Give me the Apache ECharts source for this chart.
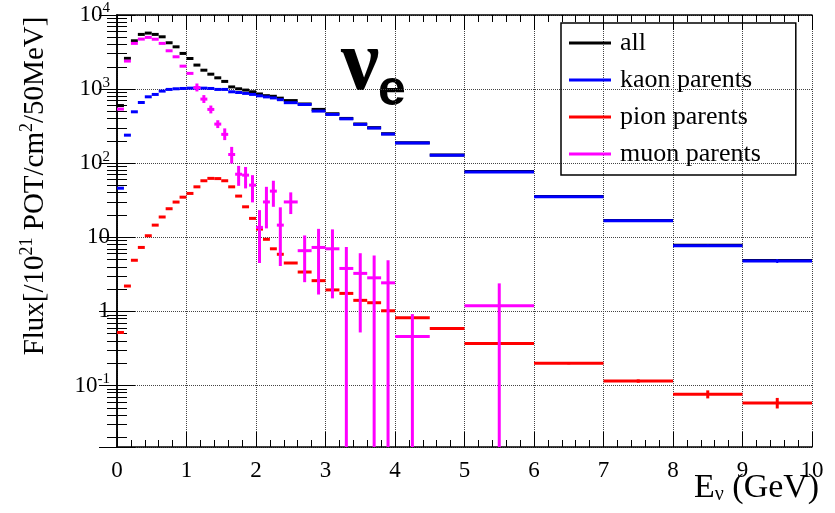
<!DOCTYPE html>
<html>
<head>
<meta charset="utf-8">
<script src="https://cdn.jsdelivr.net/npm/echarts@6/dist/echarts.min.js"></script>
<style>
  html, body { margin: 0; padding: 0; background: #fff; }
  #chart { width: 835px; height: 513px; }
</style>
</head>
<body>
<div id="chart"></div>
<script>
// bin edges in GeV (0.1 wide to 2.4, 0.2 wide to 4, 0.5 wide to 5, then 1 GeV)
const binEdges = [0, 0.1, 0.2, 0.3, 0.4, 0.5, 0.6, 0.7, 0.8, 0.9, 1.0, 1.1, 1.2, 1.3, 1.4, 1.5, 1.6, 1.7, 1.8, 1.9,
  2.0, 2.1, 2.2, 2.3, 2.4, 2.6, 2.8, 3.0, 3.2, 3.4, 3.6, 3.8, 4.0, 4.5, 5, 6, 7, 8, 9, 10]

const allFlux = [600, 2600, 4490, 5470, 5700, 5470, 5080, 4220, 3720, 3030, 2590, 2110, 1800, 1590, 1420, 1270, 1070, 1010, 970, 920,
  860, 815, 800, 755, 700, 630, 532, 465, 402, 338, 302, 250, 189, 129, 77.5, 35.6, 16.9, 7.8, 4.86]

const kaonFlux = [46, 239, 494, 660, 787, 847, 940, 990, 1010, 1020, 1030, 1030, 1030, 1020, 990, 990, 920, 900, 875, 848,
  812, 785, 760, 720, 656, 620, 505, 455, 397, 334, 298, 247, 187, 128, 76, 35.2, 16.7, 7.7, 4.8]
const kaonErrLo = [null, null, null, null, null, null, null, null, null, null, null, null, null, null, null, null, null, null, null, null,
  null, null, null, null, null, null, null, null, null, null, null, null, null, null, null, null, null, 7.4, 4.5]
const kaonErrHi = [null, null, null, null, null, null, null, null, null, null, null, null, null, null, null, null, null, null, null, null,
  null, null, null, null, null, null, null, null, null, null, null, null, null, null, null, null, null, 8.0, 5.1]

const pionFlux = [0.52, 2.2, 4.9, 7.3, 10.5, 14.6, 18.8, 24.3, 29.9, 34.8, 39.1, 48, 58, 62.4, 62, 58, 48, 36, 25.8, 18,
  12.9, 9.4, 7.0, 5.9, 4.5, 3.4, 2.6, 1.95, 1.75, 1.41, 1.31, 1.02, 0.82, 0.59, 0.37, 0.199, 0.115, 0.076, 0.058]
const pionErrLo = [null, null, null, null, null, null, null, null, null, null, null, null, null, null, null, null, null, null, null, null,
  null, null, null, null, null, null, null, null, null, null, null, null, null, 0.58, null, 0.193, 0.109, 0.067, 0.049]
const pionErrHi = [null, null, null, null, null, null, null, null, null, null, null, null, null, null, null, null, null, null, null, null,
  null, null, null, null, null, null, null, null, null, null, null, null, null, 0.61, null, 0.206, 0.121, 0.086, 0.068]

const muonFlux = [537, 2390, 4140, 4730, 4990, 4710, 4140, 3290, 2730, 2040, 1630, 1050, 733, 532, 337, 245, 131, 71, 69, 50.6,
  13.6, 30, 42, 14.6, 30, 6.6, 7.3, 7.0, 3.8, 3.26, 2.84, 2.43, 0.46, null, 1.19, null, null, null, null]
const muonErrLo = [null, null, null, null, null, null, null, null, null, null, null, 930, 650, 470, 298, 205, 99, 49.5, 45.7, 29.6,
  4.5, 13.2, 25.8, 4.1, 20.6, 2.48, 1.69, 1.5, 0.001, 0.52, 0.001, 0.001, 0.001, null, 0.001, null, null, null, null]
const muonErrHi = [null, null, null, null, null, null, null, null, null, null, null, 1190, 830, 600, 380, 295, 166, 92, 89, 69,
  23.3, 48, 58, 25.4, 40.4, 10.6, 13, 12.8, 7.4, 6.1, 5.7, 4.9, 0.92, null, 2.39, null, null, null, null]

const yMin = 0.0148
const yMax = 10000
const serif = 'Liberation Serif'

function histData (vals, lo, hi) {
  const out = []
  vals.forEach((v, i) => {
    if (v == null) return
    out.push([binEdges[i], binEdges[i + 1], v, lo ? lo[i] : null, hi ? hi[i] : null])
  })
  return out
}

function histSeries (name, color, data, barWidth) {
  return {
    name: name,
    type: 'custom',
    clip: true,
    itemStyle: { color: color },
    encode: { x: [0, 1], y: 2 },
    data: data,
    renderItem: function (params, api) {
      const x0 = api.value(0)
      const x1 = api.value(1)
      const v = api.value(2)
      const lo = api.value(3)
      const hi = api.value(4)
      const a = api.coord([x0, v])
      const b = api.coord([x1, v])
      const children = [{
        type: 'line',
        shape: { x1: a[0], y1: a[1], x2: b[0], y2: b[1] },
        style: { stroke: color, lineWidth: 3 }
      }]
      if (lo > 0 && hi > 0) {
        const xm = (x0 + x1) / 2
        const c = api.coord([xm, lo])
        const d = api.coord([xm, hi])
        children.push({
          type: 'line',
          shape: { x1: c[0], y1: c[1], x2: d[0], y2: d[1] },
          style: { stroke: color, lineWidth: barWidth }
        })
      }
      return { type: 'group', children: children }
    }
  }
}

function decadeLabel (v) {
  const l = Math.log10(v)
  const e = Math.round(l)
  if (Math.abs(l - e) > 1e-6) return ''
  if (e === 0) return '1'
  if (e === 1) return '10'
  return '10{sup|' + e + '}'
}

const myChart = echarts.init(document.getElementById('chart'))
myChart.setOption({
  animation: false,
  backgroundColor: '#fff',
  grid: { left: 117, right: 23, top: 15, bottom: 66, containLabel: false, outerBoundsMode: 'none' },
  legend: {
    orient: 'vertical',
    left: 561,
    top: 23,
    padding: [7, 35, 8, 8],
    itemGap: 11,
    itemWidth: 42,
    itemHeight: 3,
    icon: 'rect',
    borderColor: '#000',
    borderWidth: 1.5,
    borderRadius: 0,
    textStyle: { fontFamily: serif, fontSize: 26, lineHeight: 26, color: '#000', padding: [0, 0, 0, 4] },
    data: ['all', 'kaon parents', 'pion parents', 'muon parents']
  },
  graphic: [
    { type: 'text', left: 341, top: 24, style: { text: 'ν', font: 'bold 86px "Liberation Serif"', fill: '#000' } },
    { type: 'text', left: 378, top: 66, style: { text: 'e', font: 'bold 50px "Liberation Sans"', fill: '#000' } }
  ],
  xAxis: [{
    type: 'value',
    min: 0,
    max: 10,
    interval: 1,
    position: 'bottom',
    name: 'E{sub|ν} (GeV)',
    nameLocation: 'end',
    nameGap: -118,
    nameMoveOverlap: false,
    nameTextStyle: {
      fontFamily: serif, fontSize: 34, color: '#000', verticalAlign: 'top',
      padding: [24, 0, 0, 0],
      rich: { sub: { fontFamily: serif, fontSize: 20, verticalAlign: 'bottom', lineHeight: 20 } }
    },
    axisLine: { show: true, lineStyle: { color: '#000', width: 1.5 } },
    axisTick: { inside: true, length: 15, lineStyle: { color: '#000' } },
    minorTick: { show: true, splitNumber: 5, length: 7, lineStyle: { color: '#000' } },
    splitLine: { show: true, lineStyle: { type: 'dotted', color: '#444' } },
    axisLabel: { fontFamily: serif, fontSize: 23, color: '#000', margin: 12 }
  }, {
    type: 'value',
    min: 0,
    max: 10,
    interval: 1,
    position: 'top',
    axisLine: { show: true, lineStyle: { color: '#000', width: 1.5 } },
    axisTick: { inside: true, length: 15, lineStyle: { color: '#000' } },
    minorTick: { show: true, splitNumber: 5, length: 7, lineStyle: { color: '#000' } },
    splitLine: { show: false },
    axisLabel: { show: false }
  }],
  yAxis: [{
    type: 'log',
    logBase: 10,
    min: yMin,
    max: yMax,
    position: 'left',
    name: 'Flux[/10{sup|21} POT/cm{sup|2}/50MeV]',
    nameLocation: 'middle',
    nameGap: 65,
    nameMoveOverlap: false,
    nameTextStyle: {
      fontFamily: serif, fontSize: 29, lineHeight: 34, color: '#000',
      padding: [0, 0, 0, 90],
      rich: { sup: { fontFamily: serif, fontSize: 18, lineHeight: 18, verticalAlign: 'top' } }
    },
    axisLine: { show: true, lineStyle: { color: '#000', width: 1.5 } },
    axisTick: { inside: true, length: 18, lineStyle: { color: '#000' } },
    minorTick: { show: true, splitNumber: 9, length: 10, lineStyle: { color: '#000' } },
    splitLine: { show: true, lineStyle: { type: 'dotted', color: '#444' } },
    axisLabel: {
      fontFamily: serif, fontSize: 23, lineHeight: 28, color: '#000', margin: 7,
      formatter: decadeLabel,
      rich: { sup: { fontFamily: serif, fontSize: 15, lineHeight: 15, verticalAlign: 'top' } }
    }
  }, {
    type: 'log',
    logBase: 10,
    min: yMin,
    max: yMax,
    position: 'right',
    axisLine: { show: true, lineStyle: { color: '#000', width: 1.5 } },
    axisTick: { inside: true, length: 18, lineStyle: { color: '#000' } },
    minorTick: { show: true, splitNumber: 9, length: 10, lineStyle: { color: '#000' } },
    splitLine: { show: false },
    axisLabel: { show: false }
  }],
  series: [
    histSeries('all', '#000000', histData(allFlux), 2),
    histSeries('kaon parents', '#0000ff', histData(kaonFlux, kaonErrLo, kaonErrHi), 2),
    histSeries('pion parents', '#ff0000', histData(pionFlux, pionErrLo, pionErrHi), 3),
    histSeries('muon parents', '#ff00ff', histData(muonFlux, muonErrLo, muonErrHi), 3)
  ]
})
</script>
</body>
</html>
